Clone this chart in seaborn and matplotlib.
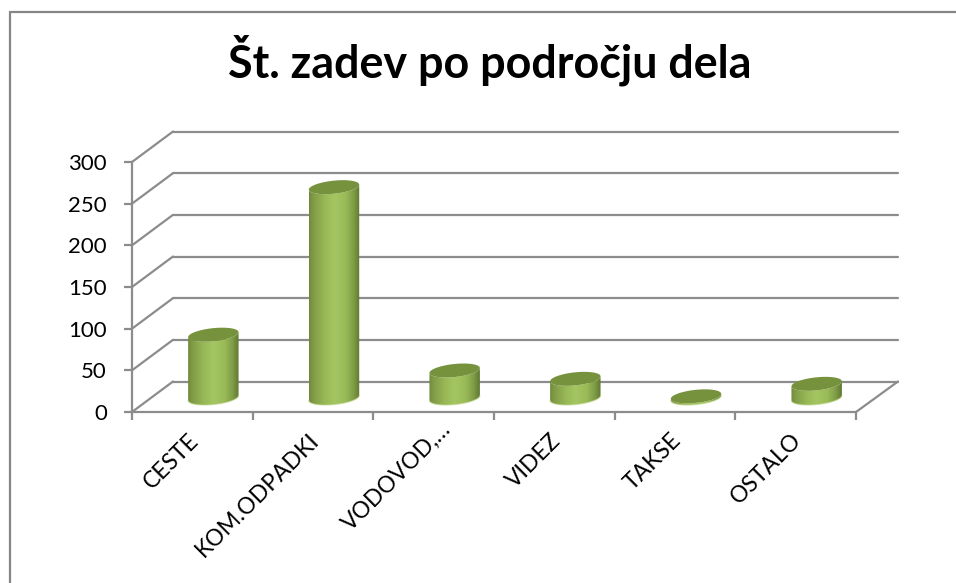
import numpy as np
import pandas as pd
import matplotlib
matplotlib.use('Agg')
import matplotlib.pyplot as plt
import seaborn as sns
from matplotlib.colors import LinearSegmentedColormap
from matplotlib.lines import Line2D
from matplotlib.patches import ConnectionPatch, Polygon
from matplotlib.transforms import ScaledTranslation

# values
categories = ['CESTE', 'KOM.ODPADKI', 'VODOVOD,…', 'VIDEZ', 'TAKSE', 'OSTALO']
cases = [76, 253, 33, 23, 2, 17]
y_ticks = [0, 50, 100, 150, 200, 250, 300]
title_text = 'Št. zadev po področju dela'

W, H = 956, 583
GRAY = '#8c8c8c'
LW = 1.6


def px_box(left, top, right, bottom):
    """Axes rectangle from pixel edges (y counted from the top)."""
    return [left / W, 1 - bottom / H, (right - left) / W, (bottom - top) / H]


def ellipse_point(cx, cy, a, b, tilt, t):
    return np.column_stack([
        cx + a * np.cos(t) * np.cos(tilt) - b * np.sin(t) * np.sin(tilt),
        cy + a * np.cos(t) * np.sin(tilt) + b * np.sin(t) * np.cos(tilt),
    ])


sns.set_style('white')
plt.rcParams['font.family'] = ['Lato', 'DejaVu Sans']

fig = plt.figure(figsize=(W / 100, H / 100), dpi=100)

# --- back wall with the gridlines ---
ax_wall = fig.add_axes(px_box(173, 131.5, 898, 381.5))
ax_wall.set_xlim(-0.5, 5.5)
ax_wall.set_ylim(0, 300)
ax_wall.set_yticks(y_ticks)
ax_wall.set_xticks([])
ax_wall.tick_params(left=False, labelleft=False)
ax_wall.grid(axis='y', color=GRAY, lw=LW, clip_on=False)
sns.despine(ax=ax_wall, left=True, bottom=True)

# --- front plane with the axes ---
ax = fig.add_axes(px_box(132, 162, 856, 412))
ax.patch.set_visible(False)
ax.set_xlim(-0.5, 5.5)
ax.set_ylim(0, 300)
ax.set_yticks(y_ticks)
ax.set_xticks(np.arange(-0.5, 6))
ax.set_xticklabels([])
ax.set_xticks(np.arange(6), categories, minor=True)
ax.tick_params(axis='y', left=True, length=6, width=LW, color=GRAY, pad=12, labelsize=16, labelcolor='black')
ax.tick_params(axis='x', which='major', bottom=True, length=6, width=LW, color=GRAY)
ax.tick_params(axis='x', which='minor', bottom=False, length=0, pad=18, labelsize=16.5, labelcolor='black')
for lab in ax.get_xticklabels(minor=True):
    lab.set(rotation=45, ha='right', va='center', rotation_mode='anchor')
    # the shortened label sits further along its slant in the original
    dx, dy = (10 / 72, 8 / 72) if lab.get_text().endswith('…') else (2 / 72, 0)
    lab.set_transform(lab.get_transform() + ScaledTranslation(dx, dy, fig.dpi_scale_trans))
sns.despine(ax=ax)
for side in ['left', 'bottom']:
    ax.spines[side].set(color=GRAY, lw=LW)

# floor and wall diagonals
for v in y_ticks:
    fig.add_artist(ConnectionPatch((-0.5, v), (-0.5, v), 'data', 'data', axesA=ax, axesB=ax_wall,
                                   color=GRAY, lw=LW))
fig.add_artist(ConnectionPatch((5.5, 0), (5.5, 0), 'data', 'data', axesA=ax, axesB=ax_wall,
                               color=GRAY, lw=LW))

# --- bars, on an axes shifted halfway into the depth ---
df = pd.DataFrame({'category': categories, 'cases': cases})
extra = 30  # room below zero for the round bottoms
ax_bar = fig.add_axes(px_box(153, 148, 877, 398 + extra * 250 / 300))
ax_bar.set_zorder(5)
sns.barplot(data=df, x='category', y='cases', ax=ax_bar, color='#9bbb59', width=0.42, saturation=1)
ax_bar.set_xlim(-0.5, 5.5)
ax_bar.set_ylim(-extra, 300)
ax_bar.axis('off')

shade = LinearSegmentedColormap.from_list('cyl', [
    (0.0, '#71893c'), (0.07, '#7f9a46'), (0.3, '#98b756'), (0.5, '#a4c662'),
    (0.72, '#9abb58'), (0.88, '#7f9c47'), (1.0, '#5f7831')])
gradient = np.linspace(0, 1, 128).reshape(1, -1)
tilt = np.deg2rad(6)

for bar in list(ax_bar.patches):
    x0, w, v = bar.get_x(), bar.get_width(), bar.get_height()
    cx, top_y = ax_bar.transData.transform((x0 + w / 2, v))
    base_y = ax_bar.transData.transform((0, 0))[1]
    a = abs(ax_bar.transData.transform((x0 + w, 0))[0] - cx)
    b = 6.5
    t0 = np.arctan2(-b * np.sin(tilt), a * np.cos(tilt))
    arc = np.linspace(t0 + np.pi, t0 + 2 * np.pi, 60)

    low = ellipse_point(cx, base_y, a, b, tilt, arc)
    up = ellipse_point(cx, top_y, a, b, tilt, arc)[::-1]
    to_data = ax_bar.transData.inverted()
    outline = to_data.transform(np.vstack([low, up]))

    bar.set_visible(False)
    im = ax_bar.imshow(gradient, cmap=shade, aspect='auto', zorder=3,
                       extent=(x0, x0 + w, -extra, v + 20))
    im.set_clip_path(Polygon(outline, transform=ax_bar.transData))

    # light lip along the bottom edge
    lip = to_data.transform(low)
    ax_bar.plot(lip[:, 0], lip[:, 1], color='#bcd585', lw=0.9, alpha=0.6, zorder=4)

    # top cap
    cap = to_data.transform(ellipse_point(cx, top_y, a, b, tilt, np.linspace(0, 2 * np.pi, 120)))
    ax_bar.add_patch(Polygon(cap, closed=True, fc='#76923c', ec='none', zorder=5))

ax_bar.set_xlim(-0.5, 5.5)
ax_bar.set_ylim(-extra, 300)

# --- title and the visible part of the chart frame ---
fig.text(489.5 / W, 1 - 77 / H, title_text, ha='center', va='baseline', fontsize=32.3, fontweight='bold', color='black')
fig.add_artist(Line2D([9.5 / W, 9.5 / W], [0, 1 - 11.5 / H], color='#868686', lw=1.6))
fig.add_artist(Line2D([9.5 / W, 1], [1 - 11.5 / H, 1 - 11.5 / H], color='#868686', lw=1.6))

fig.savefig('out.png', dpi=100)
